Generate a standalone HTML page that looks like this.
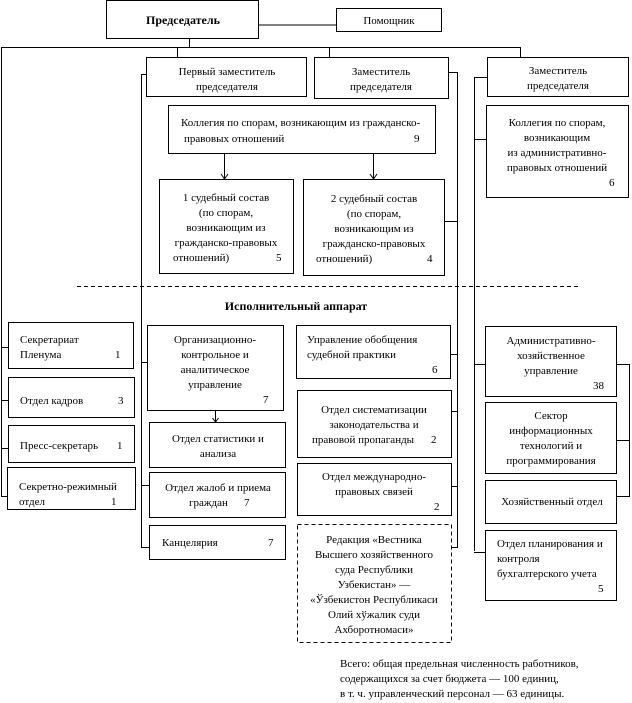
<!DOCTYPE html>
<html><head><meta charset="utf-8"><style>
html,body{margin:0;padding:0;background:#fff;}
svg{display:block}
text{font-family:"Liberation Serif",serif;font-size:11px;fill:#000}
</style></head><body>
<svg width="632" height="703" viewBox="0 0 632 703" xmlns="http://www.w3.org/2000/svg">
<g fill="none" stroke="#000" stroke-width="1">
<rect x="106.5" y="0.5" width="152" height="38"/>
<rect x="336.5" y="8.5" width="105" height="23"/>
<line x1="258" y1="25" x2="336" y2="25"/>
<line x1="189.5" y1="38" x2="189.5" y2="47"/>
<line x1="1" y1="47.5" x2="520" y2="47.5"/>
<line x1="1.5" y1="47" x2="1.5" y2="497"/>
<line x1="177.5" y1="47" x2="177.5" y2="57"/>
<line x1="329.5" y1="47" x2="329.5" y2="57"/>
<line x1="520.5" y1="47" x2="520.5" y2="57"/>
<rect x="146.5" y="57.5" width="160" height="39"/>
<rect x="314.5" y="57.5" width="134" height="41"/>
<rect x="487.5" y="57.5" width="141" height="39"/>
<line x1="141.5" y1="74" x2="141.5" y2="548"/>
<line x1="141" y1="74.5" x2="146" y2="74.5"/>
<line x1="448" y1="72.5" x2="458" y2="72.5"/>
<line x1="457.5" y1="72" x2="457.5" y2="548"/>
<line x1="474.5" y1="77" x2="474.5" y2="551"/>
<line x1="474" y1="77.5" x2="487" y2="77.5"/>
<rect x="168.5" y="105.5" width="267" height="48"/>
<line x1="224.5" y1="154" x2="224.5" y2="179"/>
<path d="M221 174 L224.5 179 L228 174"/>
<line x1="373.5" y1="154" x2="373.5" y2="179"/>
<path d="M370 174 L373.5 179 L377 174"/>
<rect x="159.5" y="179.5" width="134" height="94"/>
<rect x="303.5" y="179.5" width="141" height="96"/>
<line x1="445" y1="221.5" x2="458" y2="221.5"/>
<rect x="486.5" y="105.5" width="142" height="92"/>
<line x1="474" y1="139.5" x2="486" y2="139.5"/>
<line x1="77" y1="286.5" x2="580" y2="286.5" stroke-dasharray="4,3"/>
<rect x="8.5" y="322.5" width="125" height="46"/>
<rect x="8.5" y="377.5" width="126" height="40"/>
<rect x="8.5" y="425.5" width="126" height="37"/>
<rect x="7.5" y="467.5" width="128" height="42"/>
<line x1="1" y1="347.5" x2="8" y2="347.5"/>
<line x1="1" y1="400.5" x2="8" y2="400.5"/>
<line x1="1" y1="448.5" x2="8" y2="448.5"/>
<line x1="1" y1="496.5" x2="8" y2="496.5"/>
<rect x="147.5" y="325.5" width="136" height="85"/>
<line x1="215.5" y1="410" x2="215.5" y2="422"/>
<path d="M212.5 418 L215.5 422 L218.5 418"/>
<rect x="149.5" y="422.5" width="136" height="45"/>
<rect x="149.5" y="472.5" width="136" height="45"/>
<rect x="149.5" y="525.5" width="136" height="34"/>
<line x1="141" y1="362.5" x2="147" y2="362.5"/>
<line x1="141" y1="485.5" x2="149" y2="485.5"/>
<line x1="141" y1="547.5" x2="149" y2="547.5"/>
<rect x="296.5" y="325.5" width="154" height="53"/>
<rect x="297.5" y="390.5" width="154" height="67"/>
<rect x="297.5" y="463.5" width="154" height="52"/>
<rect x="297.5" y="524.5" width="154" height="118" stroke-dasharray="4,3"/>
<line x1="451" y1="354.5" x2="458" y2="354.5"/>
<line x1="452" y1="411.5" x2="458" y2="411.5"/>
<line x1="452" y1="486.5" x2="458" y2="486.5"/>
<line x1="452" y1="547.5" x2="458" y2="547.5"/>
<rect x="485.5" y="326.5" width="131" height="70"/>
<rect x="485.5" y="402.5" width="131" height="71"/>
<rect x="485.5" y="480.5" width="131" height="43"/>
<rect x="485.5" y="530.5" width="131" height="70"/>
<line x1="474" y1="364.5" x2="485" y2="364.5"/>
<line x1="474" y1="552.5" x2="485" y2="552.5"/>
<line x1="617" y1="364.5" x2="630" y2="364.5"/>
<line x1="629.5" y1="364" x2="629.5" y2="497"/>
<line x1="617" y1="440.5" x2="630" y2="440.5"/>
<line x1="617" y1="496.5" x2="630" y2="496.5"/>
</g>
<g>
<text x="183" y="24" text-anchor="middle" font-weight="bold" style="font-size:12px">Председатель</text>
<text x="389" y="24" text-anchor="middle">Помощник</text>
<text x="227" y="75" text-anchor="middle">Первый заместитель</text>
<text x="227" y="90" text-anchor="middle">председателя</text>
<text x="381" y="75" text-anchor="middle">Заместитель</text>
<text x="381" y="90" text-anchor="middle">председателя</text>
<text x="558" y="74" text-anchor="middle">Заместитель</text>
<text x="558" y="89" text-anchor="middle">председателя</text>
<text x="181" y="126">Коллегия по спорам, возникающим из гражданско-</text>
<text x="184" y="142">правовых отношений</text>
<text x="414" y="142">9</text>
<text x="557" y="126" text-anchor="middle">Коллегия по спорам,</text>
<text x="557" y="141" text-anchor="middle">возникающим</text>
<text x="557" y="156" text-anchor="middle">из административно-</text>
<text x="557" y="171" text-anchor="middle">правовых отношений</text>
<text x="609" y="186">6</text>
<text x="226" y="201" text-anchor="middle">1 судебный состав</text>
<text x="226" y="216" text-anchor="middle">(по спорам,</text>
<text x="226" y="231" text-anchor="middle">возникающим из</text>
<text x="226" y="246" text-anchor="middle">гражданско-правовых</text>
<text x="173" y="261">отношений)</text>
<text x="276" y="261">5</text>
<text x="374" y="202" text-anchor="middle">2 судебный состав</text>
<text x="374" y="217" text-anchor="middle">(по спорам,</text>
<text x="374" y="232" text-anchor="middle">возникающим из</text>
<text x="374" y="247" text-anchor="middle">гражданско-правовых</text>
<text x="316" y="262">отношений)</text>
<text x="427" y="262">4</text>
<text x="296" y="310" text-anchor="middle" font-weight="bold" style="font-size:12px">Исполнительный аппарат</text>
<text x="20" y="343">Секретариат</text>
<text x="20" y="358">Пленума</text>
<text x="115" y="358">1</text>
<text x="20" y="404">Отдел кадров</text>
<text x="118" y="404">3</text>
<text x="20" y="449">Пресс-секретарь</text>
<text x="117" y="449">1</text>
<text x="19" y="490">Секретно-режимный</text>
<text x="19" y="505">отдел</text>
<text x="111" y="505">1</text>
<text x="215" y="343" text-anchor="middle">Организационно-</text>
<text x="215" y="358" text-anchor="middle">контрольное и</text>
<text x="215" y="373" text-anchor="middle">аналитическое</text>
<text x="215" y="388" text-anchor="middle">управление</text>
<text x="263" y="403">7</text>
<text x="218" y="442" text-anchor="middle">Отдел статистики и</text>
<text x="218" y="457" text-anchor="middle">анализа</text>
<text x="218" y="491" text-anchor="middle">Отдел жалоб и приема</text>
<text x="189" y="506">граждан</text>
<text x="244" y="506">7</text>
<text x="162" y="546">Канцелярия</text>
<text x="268" y="546">7</text>
<text x="307" y="343">Управление обобщения</text>
<text x="307" y="358">судебной  практики</text>
<text x="432" y="373">6</text>
<text x="374" y="413" text-anchor="middle">Отдел систематизации</text>
<text x="374" y="428" text-anchor="middle">законодательства и</text>
<text x="312" y="443">правовой пропаганды</text>
<text x="431" y="443">2</text>
<text x="374" y="480" text-anchor="middle">Отдел международно-</text>
<text x="374" y="495" text-anchor="middle">правовых связей</text>
<text x="434" y="510">2</text>
<text x="374" y="543" text-anchor="middle">Редакция «Вестника</text>
<text x="374" y="558" text-anchor="middle">Высшего хозяйственного</text>
<text x="374" y="573" text-anchor="middle">суда Республики</text>
<text x="374" y="588" text-anchor="middle">Узбекистан» —</text>
<text x="374" y="603" text-anchor="middle">«Ўзбекистон Республикаси</text>
<text x="374" y="618" text-anchor="middle">Олий хўжалик суди</text>
<text x="374" y="633" text-anchor="middle">Ахборотномаси»</text>
<text x="551" y="344" text-anchor="middle">Административно-</text>
<text x="551" y="359" text-anchor="middle">хозяйственное</text>
<text x="551" y="374" text-anchor="middle">управление</text>
<text x="593" y="389">38</text>
<text x="551" y="419" text-anchor="middle">Сектор</text>
<text x="551" y="434" text-anchor="middle">информационных</text>
<text x="551" y="449" text-anchor="middle">технологий и</text>
<text x="551" y="464" text-anchor="middle">программирования</text>
<text x="552" y="505" text-anchor="middle">Хозяйственный отдел</text>
<text x="497" y="547">Отдел планирования и</text>
<text x="497" y="562">контроля</text>
<text x="497" y="577">бухгалтерского учета</text>
<text x="598" y="592">5</text>
<text x="340" y="667">Всего: общая предельная численность работников,</text>
<text x="340" y="682">содержащихся за счет бюджета — 100 единиц,</text>
<text x="340" y="697">в т. ч. управленческий персонал — 63 единицы.</text>
</g>
</svg>
</body></html>
